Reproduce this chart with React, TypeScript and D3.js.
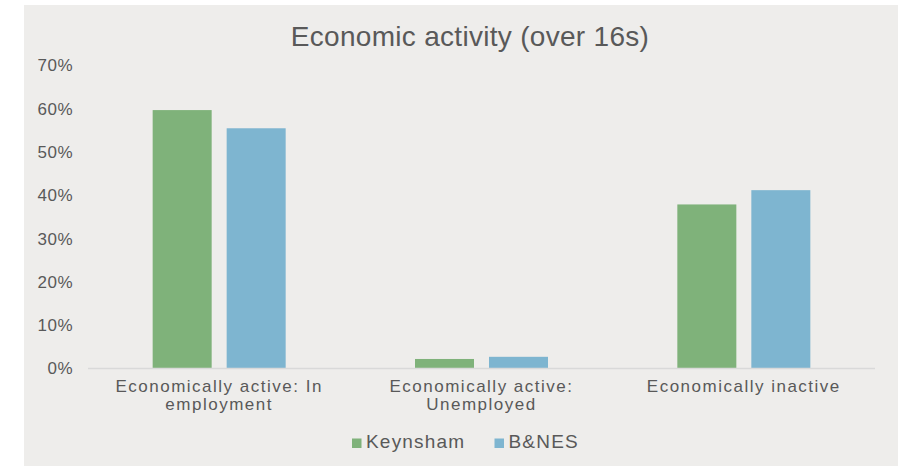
import React from "react";
import * as d3 from "d3";

const categories: string[][] = [
  ["Economically active: In", "employment"],
  ["Economically active:", "Unemployed"],
  ["Economically inactive"],
];
const categoryKeys = ["active-employed", "active-unemployed", "inactive"];
const seriesNames = ["Keynsham", "B&NES"];
const keynsham = [59.7, 2.2, 37.9];
const bnes = [55.5, 2.7, 41.2];
const seriesColors = ["#7fb27a", "#7eb5d0"];
const yTicks = [0, 10, 20, 30, 40, 50, 60, 70];
const title = "Economic activity (over 16s)";

const W = 899;
const H = 466;
const plot = { left: 88, right: 875, top: 65.5, bottom: 368.5 };
const textColor = "#595959";
const font = "'Liberation Sans', Arial, Helvetica, sans-serif";

export default function App() {
  const x = d3
    .scaleBand<string>()
    .domain(categoryKeys)
    .range([plot.left, plot.right])
    .paddingInner(0)
    .paddingOuter(0);
  const y = d3.scaleLinear().domain([0, 70]).range([plot.bottom, plot.top]);
  const barW = 59;
  const gap = 15;
  const series = [keynsham, bnes];

  return (
    <svg
      width={W}
      height={H}
      style={{ position: "absolute", left: 0, top: 0, fontFamily: font }}
    >
      <rect x={0} y={0} width={W} height={H} fill="#ffffff" />
      <rect x={24} y={5} width={874} height={H - 5} fill="#eeedeb" />
      <text
        x={470}
        y={46}
        textAnchor="middle"
        fontSize={28}
        fill={textColor}
        letterSpacing={0.3}
      >
        {title}
      </text>
      {yTicks.map((t) => (
        <text
          key={t}
          x={73}
          y={y(t)}
          dy="0.35em"
          textAnchor="end"
          fontSize={17}
          fill={textColor}
          letterSpacing={0.5}
        >
          {t + "%"}
        </text>
      ))}
      {series.map((vals, si) =>
        vals.map((v, ci) => {
          const cx = (x(categoryKeys[ci]) as number) + x.bandwidth() / 2;
          const bx = si === 0 ? cx - gap / 2 - barW : cx + gap / 2;
          return (
            <rect
              key={si + "-" + ci}
              x={bx}
              y={y(v)}
              width={barW}
              height={y(0) - y(v)}
              fill={seriesColors[si]}
            />
          );
        })
      )}
      <line
        x1={plot.left}
        x2={plot.right}
        y1={plot.bottom}
        y2={plot.bottom}
        stroke="#d9d9d9"
        strokeWidth={1.5}
      />
      {categories.map((lines, ci) => {
        const cx = (x(categoryKeys[ci]) as number) + x.bandwidth() / 2;
        return (
          <text
            key={ci}
            x={cx}
            y={391.5}
            textAnchor="middle"
            fontSize={17}
            fill={textColor}
            letterSpacing={1.5}
          >
            {lines.map((l, li) => (
              <tspan key={li} x={cx} dy={li === 0 ? 0 : 18.5}>
                {l}
              </tspan>
            ))}
          </text>
        );
      })}
      {seriesNames.map((n, si) => {
        const lx = si === 0 ? 352 : 494.5;
        return (
          <g key={n}>
            <rect x={lx} y={438.5} width={9.5} height={9.5} fill={seriesColors[si]} />
            <text
              x={lx + 14}
              y={447.7}
              fontSize={19}
              fill={textColor}
              letterSpacing={1.2}
            >
              {n}
            </text>
          </g>
        );
      })}
    </svg>
  );
}
